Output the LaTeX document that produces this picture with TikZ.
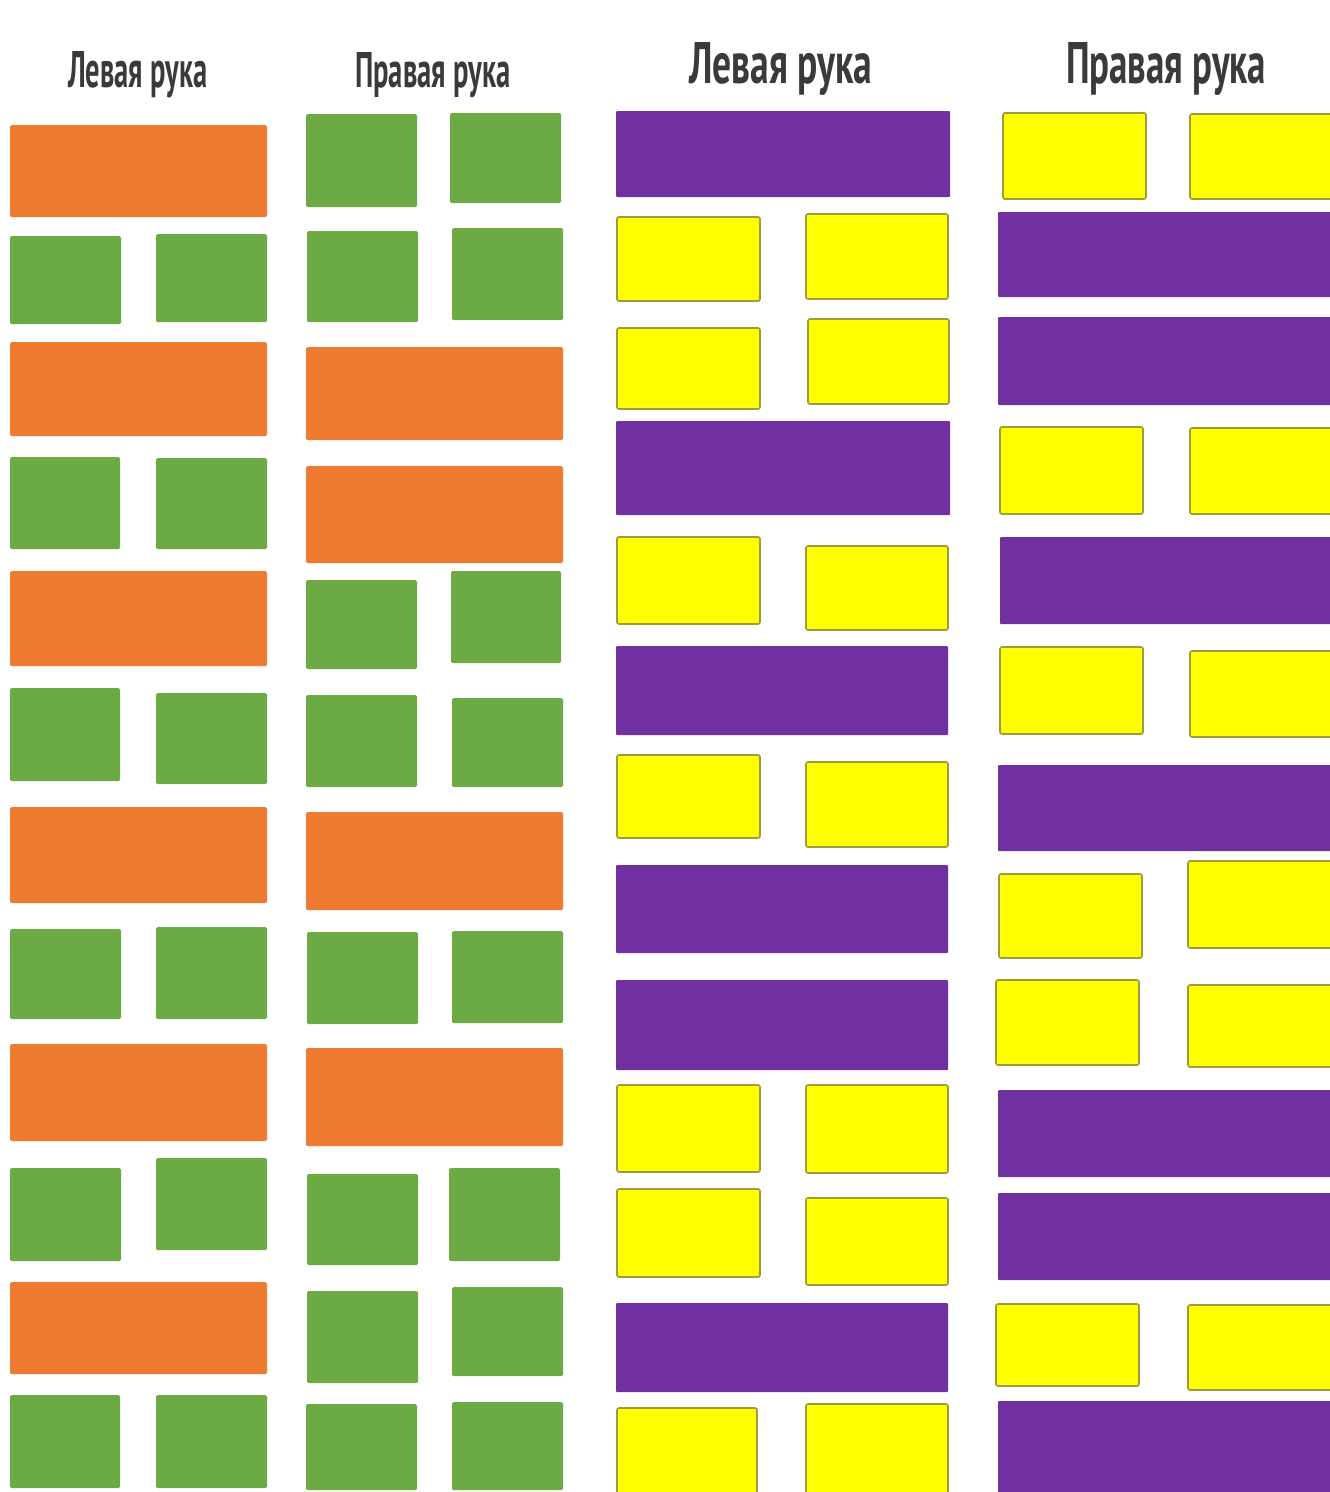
\documentclass[tikz,border=0pt]{standalone}
\usepackage{fontspec}
\usepackage{graphicx}
\setmainfont{PT Sans}
\definecolor{orangeb}{HTML}{EE7B30}
\definecolor{greenb}{HTML}{6CAB44}
\definecolor{purpleb}{HTML}{7030A0}
\definecolor{yellowb}{HTML}{FFFF00}
\definecolor{yedge}{HTML}{9C9C3A}
\definecolor{headtext}{HTML}{3A3A3A}
\newcommand\brick[5]{\path[#1] (#2,#3) rectangle (#4,#5);}
\tikzset{
  orangebar/.style={fill=orangeb, rounded corners=1.5pt},
  greenbox/.style={fill=greenb, rounded corners=1.5pt},
  purplebar/.style={fill=purpleb, rounded corners=1pt},
  yellowbox/.style={fill=yellowb, draw=yedge, line width=1.6pt, rounded corners=2pt},
  heading/.style={anchor=base west, inner sep=0pt, text=headtext, font=\bfseries}
}
\begin{document}
\begin{tikzpicture}[x=1pt,y=-1pt]
\useasboundingbox (0,0) rectangle (1330,1492);
\fill[white] (0,0) rectangle (1330,1492);
\clip (0,0) rectangle (1330,1492);

% headings
\node[heading] (h1) at (68,87) {\resizebox{139pt}{36pt}{Левая рука}};
\node[heading] (h2) at (355,87) {\resizebox{155pt}{35pt}{Правая рука}};
\node[heading] (h3) at (689,83) {\resizebox{183pt}{41pt}{Левая рука}};
\node[heading] (h4) at (1066,83) {\resizebox{200pt}{41pt}{Правая рука}};

% ---------- column 1: left hand (orange / green)
\brick{orangebar}{10}{125}{267}{217}
\brick{greenbox}{10}{236}{121}{324} \brick{greenbox}{156}{234}{267}{322}
\brick{orangebar}{10}{342}{267}{436}
\brick{greenbox}{10}{457}{120}{549} \brick{greenbox}{156}{458}{267}{549}
\brick{orangebar}{10}{571}{267}{666}
\brick{greenbox}{10}{688}{120}{781} \brick{greenbox}{156}{693}{267}{784}
\brick{orangebar}{10}{807}{267}{903}
\brick{greenbox}{10}{929}{121}{1019} \brick{greenbox}{156}{927}{267}{1019}
\brick{orangebar}{10}{1044}{267}{1141}
\brick{greenbox}{10}{1168}{121}{1261} \brick{greenbox}{156}{1158}{267}{1250}
\brick{orangebar}{10}{1282}{267}{1374}
\brick{greenbox}{10}{1395}{120}{1488} \brick{greenbox}{156}{1395}{267}{1488}

% ---------- column 2: right hand (orange / green)
\brick{greenbox}{306}{114}{417}{207} \brick{greenbox}{450}{113}{561}{203}
\brick{greenbox}{307}{231}{418}{322} \brick{greenbox}{452}{228}{563}{320}
\brick{orangebar}{306}{347}{563}{440}
\brick{orangebar}{306}{466}{563}{563}
\brick{greenbox}{306}{580}{417}{669} \brick{greenbox}{451}{571}{561}{663}
\brick{greenbox}{306}{695}{417}{787} \brick{greenbox}{452}{698}{563}{787}
\brick{orangebar}{306}{812}{563}{910}
\brick{greenbox}{307}{932}{418}{1024} \brick{greenbox}{452}{931}{563}{1023}
\brick{orangebar}{306}{1048}{563}{1146}
\brick{greenbox}{307}{1174}{418}{1265} \brick{greenbox}{449}{1168}{560}{1261}
\brick{greenbox}{307}{1291}{418}{1383} \brick{greenbox}{452}{1287}{563}{1376}
\brick{greenbox}{306}{1404}{417}{1490} \brick{greenbox}{452}{1402}{563}{1490}

% ---------- column 3: left hand (purple / yellow)
\brick{purplebar}{616}{111}{950}{197}
\brick{yellowbox}{617}{217}{760}{301} \brick{yellowbox}{806}{214}{948}{299}
\brick{yellowbox}{617}{328}{760}{409} \brick{yellowbox}{808}{319}{949}{404}
\brick{purplebar}{616}{421}{950}{515}
\brick{yellowbox}{617}{537}{760}{624} \brick{yellowbox}{806}{546}{948}{630}
\brick{purplebar}{616}{646}{948}{735}
\brick{yellowbox}{617}{755}{760}{838} \brick{yellowbox}{806}{762}{948}{847}
\brick{purplebar}{616}{865}{948}{953}
\brick{purplebar}{616}{980}{948}{1070}
\brick{yellowbox}{617}{1085}{760}{1172} \brick{yellowbox}{806}{1085}{948}{1173}
\brick{yellowbox}{617}{1189}{760}{1277} \brick{yellowbox}{806}{1198}{948}{1285}
\brick{purplebar}{616}{1303}{948}{1392}
\brick{yellowbox}{617}{1408}{757}{1498} \brick{yellowbox}{806}{1404}{948}{1498}

% ---------- column 4: right hand (purple / yellow)
\brick{yellowbox}{1003}{113}{1146}{199} \brick{yellowbox}{1190}{114}{1340}{199}
\brick{purplebar}{998}{212}{1335}{297}
\brick{purplebar}{998}{317}{1335}{405}
\brick{yellowbox}{1000}{427}{1143}{514} \brick{yellowbox}{1190}{428}{1340}{514}
\brick{purplebar}{1000}{537}{1335}{624}
\brick{yellowbox}{1000}{647}{1143}{734} \brick{yellowbox}{1190}{651}{1340}{737}
\brick{purplebar}{998}{765}{1335}{851}
\brick{yellowbox}{999}{874}{1142}{958} \brick{yellowbox}{1188}{861}{1340}{948}
\brick{yellowbox}{996}{980}{1139}{1065} \brick{yellowbox}{1188}{985}{1340}{1067}
\brick{purplebar}{998}{1090}{1335}{1177}
\brick{purplebar}{998}{1193}{1335}{1280}
\brick{yellowbox}{996}{1304}{1139}{1386} \brick{yellowbox}{1188}{1305}{1340}{1390}
\brick{purplebar}{998}{1401}{1335}{1498}
\end{tikzpicture}
\end{document}
